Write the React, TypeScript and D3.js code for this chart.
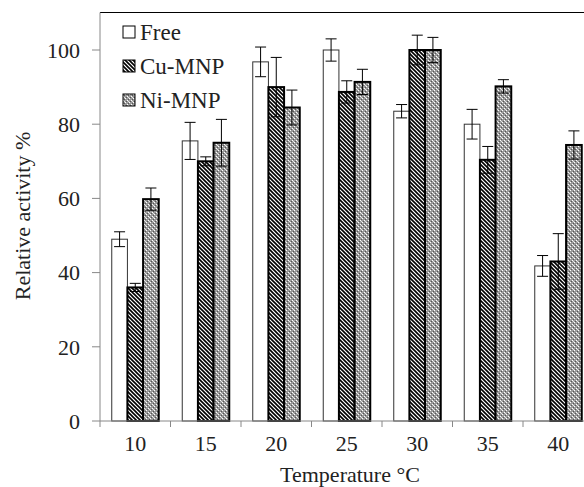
import * as d3 from "d3";

const temperatures = ["10", "15", "20", "25", "30", "35", "40"];
const seriesNames = ["Free", "Cu-MNP", "Ni-MNP"];

const freeValues = [49, 75.5, 96.8, 100, 83.5, 80, 41.8];
const freeErrors = [2, 5, 4, 3, 1.8, 4, 2.8];
const cuValues = [36, 70, 90, 88.7, 100, 70.4, 43];
const cuErrors = [1.1, 1.2, 8, 3, 4, 3.6, 7.5];
const niValues = [59.8, 75, 84.5, 91.4, 100, 90.2, 74.4];
const niErrors = [3, 6.3, 4.7, 3.4, 3.4, 1.8, 3.8];

const yTicks = [0, 20, 40, 60, 80, 100];

const W = 584;
const H = 487;
const left = 100;
const top = 12.5;
const bottom = 421;
const band = 70.5;

const textStyle = { fontFamily: '"Liberation Serif", "Times New Roman", Times, serif' };

export default function App() {
  const x = d3
    .scaleBand<string>()
    .domain(temperatures)
    .range([left, left + band * temperatures.length])
    .padding(0);

  const inner = d3
    .scaleBand<string>()
    .domain(seriesNames)
    .range([x.bandwidth() / 6, (x.bandwidth() * 5) / 6])
    .padding(0);

  const y = d3.scaleLinear().domain([0, 100]).range([bottom, 50]);

  const series = [
    { name: "Free", values: freeValues, errors: freeErrors, fill: "#ffffff", stroke: "#333", sw: 1 },
    { name: "Cu-MNP", values: cuValues, errors: cuErrors, fill: "url(#stripes)", stroke: "#000", sw: 2 },
    { name: "Ni-MNP", values: niValues, errors: niErrors, fill: "url(#dots)", stroke: "#000", sw: 2 },
  ];

  const bw = inner.bandwidth();
  const cap = 5.5;

  return (
    <svg
      width={W}
      height={H}
      style={{ position: "absolute", left: 0, top: 0, background: "#fff", ...textStyle }}
    >
      <defs>
        <pattern id="stripes" width="4" height="4" patternUnits="userSpaceOnUse">
          <rect width="4" height="4" fill="#fff" />
          <path d="M-1,-1 L5,5 M-1,3 L1,5 M3,-1 L5,1" stroke="#000" strokeWidth="1.6" />
        </pattern>
        <pattern id="dots" width="4" height="4" patternUnits="userSpaceOnUse">
          <rect width="4" height="4" fill="#9a9a9a" />
          <rect x="0" y="0" width="1" height="1" fill="#fff" />
          <rect x="2" y="2" width="1" height="1" fill="#fff" />
          <rect x="1" y="1" width="1" height="1" fill="#e0e0e0" />
          <rect x="3" y="1" width="1" height="1" fill="#555" />
          <rect x="1" y="3" width="1" height="1" fill="#555" />
        </pattern>
      </defs>

      {/* top border */}
      <line x1={left} x2={W} y1={top} y2={top} stroke="#000" strokeWidth={1} />

      {/* bars */}
      {series.map((s) =>
        temperatures.map((t, i) => {
          const bx = (x(t) ?? 0) + (inner(s.name) ?? 0);
          const by = y(s.values[i]);
          return (
            <rect
              key={s.name + t}
              x={bx}
              y={by}
              width={bw}
              height={bottom - by}
              fill={s.fill}
              stroke={s.stroke}
              strokeWidth={s.sw}
            />
          );
        })
      )}

      {/* error bars */}
      {series.map((s) =>
        temperatures.map((t, i) => {
          const cx = (x(t) ?? 0) + (inner(s.name) ?? 0) + bw / 2;
          const hi = y(s.values[i] + s.errors[i]);
          const lo = y(s.values[i] - s.errors[i]);
          return (
            <g key={"e" + s.name + t} stroke="#000" strokeWidth={1}>
              <line x1={cx} x2={cx} y1={hi} y2={lo} />
              <line x1={cx - cap} x2={cx + cap} y1={hi} y2={hi} />
              <line x1={cx - cap} x2={cx + cap} y1={lo} y2={lo} />
            </g>
          );
        })
      )}

      {/* y axis */}
      <line x1={left} x2={left} y1={top} y2={bottom} stroke="#888" />
      {yTicks.map((v) => (
        <g key={v}>
          <line x1={left - 8} x2={left} y1={y(v)} y2={y(v)} stroke="#888" />
          <text x={80} y={y(v)} dy="0.35em" textAnchor="end" fontSize={22} fill="#222" style={textStyle}>
            {v}
          </text>
        </g>
      ))}

      {/* x axis */}
      <line x1={left} x2={W} y1={bottom} y2={bottom} stroke="#888" />
      {temperatures.map((t) => (
        <g key={t}>
          <line x1={x(t) ?? 0} x2={x(t) ?? 0} y1={bottom} y2={bottom + 6} stroke="#888" />
          <text
            x={(x(t) ?? 0) + x.bandwidth() / 2}
            y={451}
            textAnchor="middle"
            fontSize={22}
            fill="#222"
            style={textStyle}
          >
            {t}
          </text>
        </g>
      ))}
      <line x1={x("40")! + band} x2={x("40")! + band} y1={bottom} y2={bottom + 6} stroke="#888" />

      {/* axis titles */}
      <text x={350} y={482} textAnchor="middle" fontSize={22} fill="#222" style={textStyle}>
        Temperature °C
      </text>
      <text
        transform={`translate(30,${216}) rotate(-90)`}
        textAnchor="middle"
        fontSize={22}
        fill="#222"
        style={textStyle}
      >
        Relative activity %
      </text>

      {/* legend */}
      {series.map((s, i) => (
        <g key={"lg" + s.name} transform={`translate(123,${32 + i * 34})`}>
          <rect x={0} y={-6} width={12} height={12} fill={s.fill} stroke="#000" strokeWidth={1} />
          <text x={17} y={0} dy="0.35em" fontSize={23} fill="#222" style={textStyle}>
            {s.name}
          </text>
        </g>
      ))}
    </svg>
  );
}
